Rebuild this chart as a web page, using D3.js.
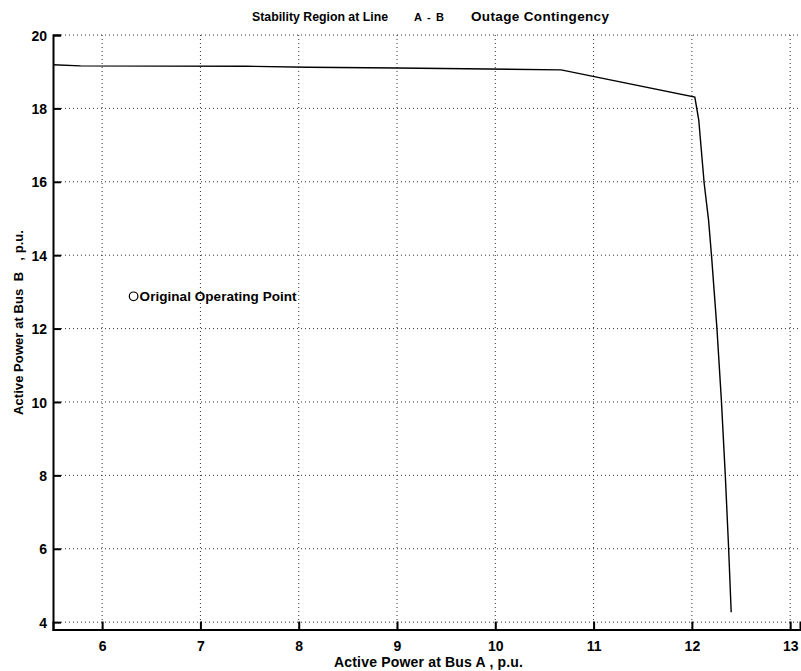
<!DOCTYPE html>
<html>
<head>
<meta charset="utf-8">
<script src="https://cdn.jsdelivr.net/npm/d3@7"></script>
<style>
  body { margin: 0; background: #fff; }
  svg { display: block; font-family: "Liberation Sans", Arial, sans-serif; }
  text { white-space: pre; }
</style>
</head>
<body>
<svg width="801" height="671"></svg>
<script>
// boundary curve of the stability region
var busA = [5.5, 5.78, 7.46, 8.1, 9.0, 9.7, 10.67, 12.03, 12.07, 12.125, 12.17, 12.2, 12.255, 12.3, 12.34, 12.374, 12.4];
var busB = [19.19, 19.16, 19.15, 19.12, 19.1, 19.08, 19.05, 18.31, 17.68, 15.96, 14.95, 13.98, 12.0, 10.05, 8.0, 6.0, 4.27];
var opA = [6.32];
var opB = [12.88];
var xTicks = [6, 7, 8, 9, 10, 11, 12, 13];
var yTicks = [4, 6, 8, 10, 12, 14, 16, 18, 20];

var pLeft = 53, pRight = 800, pTop = 35, pBottom = 629.5;

var svg = d3.select("svg");

var x = d3.scaleLinear().domain([5.5, 13.1]).range([pLeft, pRight]);
var y = d3.scaleLinear().domain([3.8, 20]).range([pBottom, pTop]);

// dotted grid
svg.append("g").selectAll("line")
    .data(xTicks)
    .enter().append("line")
    .attr("x1", function(d) { return x(d); })
    .attr("x2", function(d) { return x(d); })
    .attr("y1", pTop)
    .attr("y2", pBottom)
    .style("stroke", "#333")
    .style("stroke-width", 1)
    .style("stroke-dasharray", "1,3");

svg.append("g").selectAll("line")
    .data(yTicks)
    .enter().append("line")
    .attr("x1", pLeft)
    .attr("x2", pRight)
    .attr("y1", function(d) { return y(d); })
    .attr("y2", function(d) { return y(d); })
    .style("stroke", "#333")
    .style("stroke-width", 1)
    .style("stroke-dasharray", "1,3");

// axes, ticks pointing inward
var xAxis = svg.append("g")
    .attr("transform", "translate(0," + pBottom + ")")
    .call(d3.axisBottom(x).tickValues(xTicks).tickSize(-8).tickPadding(12).tickFormat(d3.format("d")));
var yAxis = svg.append("g")
    .attr("transform", "translate(" + pLeft + ",0)")
    .call(d3.axisLeft(y).tickValues(yTicks).tickSize(-8).tickPadding(6).tickFormat(d3.format("d")));

[xAxis, yAxis].forEach(function(a) {
    a.select(".domain").style("stroke", "#000").style("stroke-width", 2);
    a.selectAll(".tick line").style("stroke", "#000").style("stroke-width", 2);
    a.selectAll(".tick text")
        .style("font-family", "Liberation Sans, Arial, sans-serif")
        .style("font-size", "14px")
        .style("font-weight", "bold")
        .style("fill", "#000");
});
yAxis.selectAll(".tick text").attr("dy", "0.36em");

// curve
var line = d3.line()
    .x(function(d) { return x(d[0]); })
    .y(function(d) { return y(d[1]); });

svg.append("path")
    .datum(busA.map(function(a, i) { return [a, busB[i]]; }))
    .attr("d", line)
    .style("fill", "none")
    .style("stroke", "#000")
    .style("stroke-width", 1.4);

// operating point
svg.append("circle")
    .attr("cx", x(opA[0]))
    .attr("cy", y(opB[0]))
    .attr("r", 4.3)
    .style("fill", "none")
    .style("stroke", "#000")
    .style("stroke-width", 1.2);

svg.append("text")
    .attr("x", x(opA[0]) + 6)
    .attr("y", y(opB[0]) + 5)
    .attr("textLength", 157)
    .attr("lengthAdjust", "spacing")
    .style("font-size", "13.5px")
    .style("font-weight", "bold")
    .text("Original Operating Point");

// title
svg.append("text").attr("x", 252).attr("y", 21)
    .attr("textLength", 136).attr("lengthAdjust", "spacing")
    .style("font-size", "12.3px").style("font-weight", "bold")
    .text("Stability Region at Line");
svg.append("text").attr("x", 414).attr("y", 21)
    .attr("textLength", 30).attr("lengthAdjust", "spacing")
    .style("font-size", "11px").style("font-weight", "bold")
    .text("A - B");
svg.append("text").attr("x", 471).attr("y", 21)
    .attr("textLength", 138).attr("lengthAdjust", "spacing")
    .style("font-size", "13.5px").style("font-weight", "bold")
    .text("Outage Contingency");

// axis labels
svg.append("text")
    .attr("x", 334)
    .attr("y", 667)
    .attr("textLength", 189)
    .attr("lengthAdjust", "spacing")
    .style("font-size", "14px")
    .style("font-weight", "bold")
    .text("Active Power at Bus A , p.u.");

svg.append("text")
    .attr("transform", "translate(23,415) rotate(-90)")
    .attr("textLength", 185)
    .attr("lengthAdjust", "spacing")
    .style("font-size", "13px")
    .style("font-weight", "bold")
    .text("Active Power at Bus  B   , p.u.");
</script>
</body>
</html>
